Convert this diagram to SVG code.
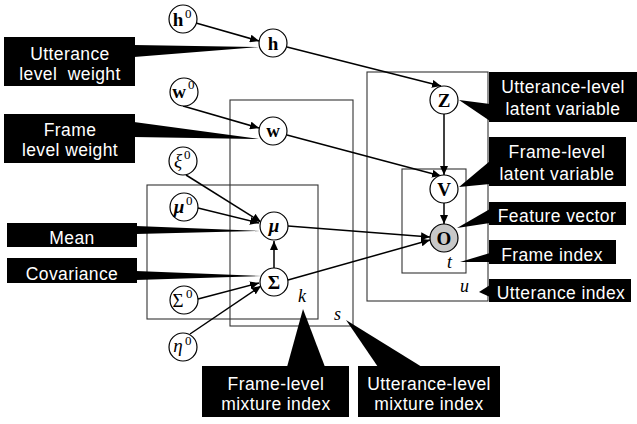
<svg xmlns="http://www.w3.org/2000/svg" width="637" height="424" viewBox="0 0 637 424">
<style>
.plate{fill:none;stroke:#333;stroke-width:1.1}
.node circle{fill:#fff;stroke:#000;stroke-width:1.2}
.nt{font-family:"Liberation Serif","DejaVu Serif",serif;font-size:19px;font-weight:bold;text-anchor:middle;fill:#000}
.sup{font-family:"Liberation Serif","DejaVu Serif",serif;font-size:13px;font-weight:normal;fill:#000}
.idx{font-family:"Liberation Serif","DejaVu Serif",serif;font-size:18px;font-style:italic;fill:#000}
.box rect{fill:#000}
.box polygon{fill:#000}
.lbl{font-family:"Liberation Sans",Arial,sans-serif;font-size:17.5px;fill:#fff;text-anchor:middle;letter-spacing:0.4px}
.edge{stroke:#000;stroke-width:1.5;fill:none;marker-end:url(#ah)}
</style>
<defs>
<marker id="ah" markerUnits="userSpaceOnUse" markerWidth="10" markerHeight="8" refX="9" refY="4" orient="auto">
<path d="M0,0 L9,4 L0,8 Z" fill="#000"/>
</marker>
</defs>
<rect width="637" height="424" fill="#fff"/>

<g id="plates">
<rect class="plate" x="147" y="185" width="171" height="134"/>
<rect class="plate" x="230" y="100" width="123" height="226"/>
<rect class="plate" x="367" y="72" width="121" height="229"/>
<rect class="plate" x="402" y="169" width="64" height="104"/>
<text class="idx" x="298" y="302">k</text>
<text class="idx" x="334" y="320">s</text>
<text class="idx" x="447" y="268">t</text>
<text class="idx" x="460" y="292">u</text>
</g>

<g id="connectors">
<line class="edge" x1="196" y1="23" x2="259" y2="41"/>
<line class="edge" x1="287" y1="47" x2="441" y2="86"/>
<line class="edge" x1="183" y1="106" x2="259" y2="128"/>
<line class="edge" x1="287" y1="135" x2="441" y2="176"/>
<line class="edge" x1="186" y1="175" x2="261" y2="222"/>
<line class="edge" x1="198" y1="208" x2="259" y2="223"/>
<line class="edge" x1="274" y1="268" x2="274" y2="241"/>
<line class="edge" x1="198" y1="299" x2="259" y2="283"/>
<line class="edge" x1="190" y1="334" x2="261" y2="286"/>
<line class="edge" x1="288" y1="226" x2="430" y2="237"/>
<line class="edge" x1="288" y1="280" x2="430" y2="240"/>
<line class="edge" x1="444" y1="114" x2="444" y2="175"/>
<line class="edge" x1="444" y1="203" x2="444" y2="224"/>
</g>

<g id="node-h0" class="node"><circle cx="183" cy="19" r="14"/><text class="nt" x="178" y="26">h</text><text class="sup" x="185" y="18">0</text></g>
<g id="node-h" class="node"><circle cx="273" cy="43" r="14"/><text class="nt" x="273" y="50">h</text></g>
<g id="node-w0" class="node"><circle cx="184" cy="92" r="14"/><text class="nt" x="179" y="98">w</text><text class="sup" x="188" y="89">0</text></g>
<g id="node-w" class="node"><circle cx="273" cy="131" r="14"/><text class="nt" x="273" y="137">w</text></g>
<g id="node-xi0" class="node"><circle cx="183" cy="161" r="14"/><text class="nt" x="178" y="167" style="font-weight:normal;font-style:italic">ξ</text><text class="sup" x="184" y="159">0</text></g>
<g id="node-mu0" class="node"><circle cx="184" cy="207" r="14"/><text class="nt" x="179" y="213" style="font-style:italic">μ</text><text class="sup" x="186" y="205">0</text></g>
<g id="node-mu" class="node"><circle cx="274" cy="226" r="14"/><text class="nt" x="274" y="232" style="font-style:italic">μ</text></g>
<g id="node-sigma" class="node"><circle cx="274" cy="282" r="14"/><text class="nt" x="274" y="289">Σ</text></g>
<g id="node-sigma0" class="node"><circle cx="184" cy="300" r="14"/><text class="nt" x="178" y="307" style="font-weight:normal">Σ</text><text class="sup" x="186" y="298">0</text></g>
<g id="node-eta0" class="node"><circle cx="183" cy="347" r="14"/><text class="nt" x="178" y="352" style="font-weight:normal;font-style:italic">η</text><text class="sup" x="185" y="345">0</text></g>
<g id="node-Z" class="node"><circle cx="444" cy="100" r="14"/><text class="nt" x="444" y="107">Z</text></g>
<g id="node-V" class="node"><circle cx="444" cy="189" r="14"/><text class="nt" x="444" y="196">V</text></g>
<g id="node-O" class="node"><circle cx="444" cy="238" r="14" style="fill:#c8c8c8"/><text class="nt" x="444" y="245">O</text></g>

<g id="label-utt-weight" class="box">
<polygon points="134,45 134,57 259,47"/>
<rect x="4" y="37" width="131" height="49"/>
<text class="lbl" x="70" y="60">Utterance</text>
<text class="lbl" x="70" y="80" xml:space="preserve">level  weight</text>
</g>
<g id="label-frame-weight" class="box">
<polygon points="134,122 134,137 259,139"/>
<rect x="4" y="114" width="131" height="49"/>
<text class="lbl" x="70" y="136">Frame</text>
<text class="lbl" x="70" y="156">level weight</text>
</g>
<g id="label-mean" class="box">
<polygon points="136,226 136,234 260,231"/>
<rect x="7" y="223" width="130" height="24"/>
<text class="lbl" x="72" y="244">Mean</text>
</g>
<g id="label-cov" class="box">
<polygon points="136,271 136,280 262,276"/>
<rect x="7" y="258" width="130" height="25"/>
<text class="lbl" x="72" y="280">Covariance</text>
</g>
<g id="label-utt-latent" class="box">
<polygon points="459,100 490,104 490,121"/>
<rect x="489" y="72" width="148" height="50"/>
<text class="lbl" x="563" y="93">Utterance-level</text>
<text class="lbl" x="563" y="115">latent variable</text>
</g>
<g id="label-frame-latent" class="box">
<polygon points="459,187 490,161 490,184"/>
<rect x="489" y="137" width="137" height="49"/>
<text class="lbl" x="557" y="158">Frame-level</text>
<text class="lbl" x="557" y="180">latent variable</text>
</g>
<g id="label-feature" class="box">
<polygon points="457,228 490,209 490,223"/>
<rect x="489" y="202" width="137" height="23"/>
<text class="lbl" x="557" y="222">Feature vector</text>
</g>
<g id="label-frame-index" class="box">
<polygon points="460,262 490,253 490,262"/>
<rect x="489" y="240" width="127" height="24"/>
<text class="lbl" x="552" y="261">Frame index</text>
</g>
<g id="label-utt-index" class="box">
<polygon points="479,292 490,285 490,297"/>
<rect x="489" y="279" width="142" height="23"/>
<text class="lbl" x="561" y="299">Utterance index</text>
</g>
<g id="label-frame-mix" class="box">
<polygon points="303,309 287,367 325,367"/>
<rect x="202" y="366" width="147" height="51"/>
<text class="lbl" x="276" y="390">Frame-level</text>
<text class="lbl" x="276" y="410">mixture index</text>
</g>
<g id="label-utt-mix" class="box">
<polygon points="346,320 378,367 422,367"/>
<rect x="358" y="366" width="142" height="51"/>
<text class="lbl" x="429" y="390">Utterance-level</text>
<text class="lbl" x="429" y="410">mixture index</text>
</g>
</svg>
